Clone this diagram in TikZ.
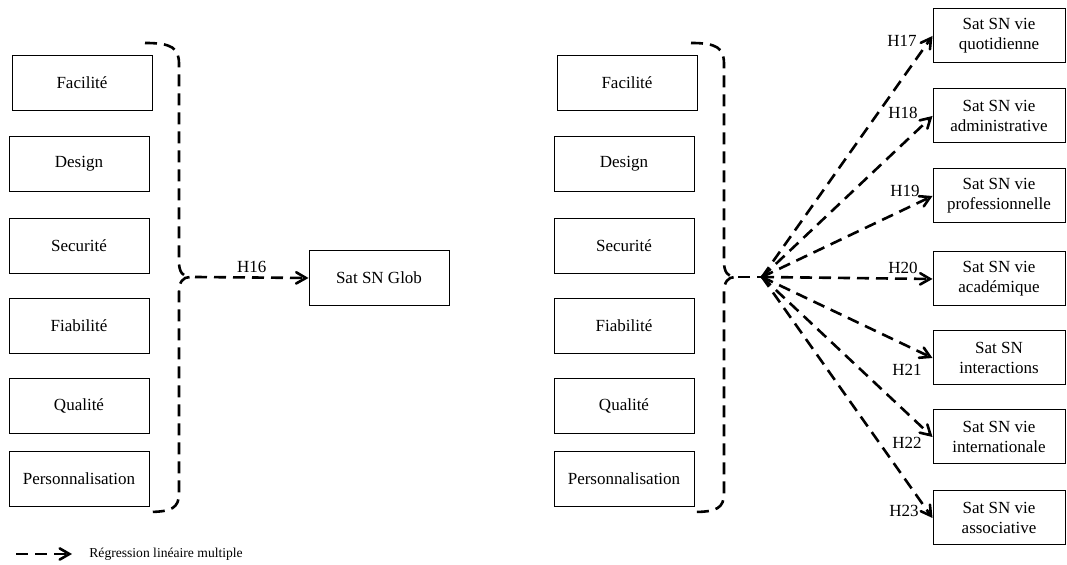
\documentclass[tikz,border=0pt]{standalone}
\usepackage{fontspec}
\setmainfont{Liberation Serif}
\usetikzlibrary{arrows}

\begin{document}
\begin{tikzpicture}[x=0.5pt, y=-0.5pt,
    box/.style={draw, line width=0.5pt, minimum width=70pt, minimum height=27.5pt,
      inner sep=1pt, align=center, font=\fontsize{8.5}{10}\selectfont},
    outbox/.style={box, minimum width=66pt, minimum height=27pt},
    reg/.style={line width=1.3pt, dash pattern=on 6pt off 3.5pt},
    arr/.style={reg, ->, >=angle 60},
    hyp/.style={inner sep=0pt, font=\fontsize{8.5}{10}\selectfont}]
    \useasboundingbox (0,0) rectangle (1067,565);

    % left model
    \node[box] (fa) at (82,83) {Facilité};
    \node[box] (de) at (79,164) {Design};
    \node[box] (se) at (79,246) {Securité};
    \node[box] (fi) at (79,326) {Fiabilité};
    \node[box] (qu) at (79,406) {Qualité};
    \node[box] (pe) at (79,479) {Personnalisation};
    \node[box] (glob) at (379,278) {Sat SN Glob};

    \draw[reg] (145,43) .. controls (172,43) and (179,48) .. (179,64) -- (179,262)
      .. controls (179,272) and (183,277) .. (190,277)
      .. controls (183,277) and (179,282) .. (179,292) -- (179,493)
      .. controls (179,508) and (172,512) .. (147,512);
    \coordinate (tipL) at (195,277);
    \draw[arr] (tipL) -- (glob.west) node[midway, above=2pt, hyp] (h16) {H16};

    % right model
    \node[box] (fa2) at (627,83) {Facilité};
    \node[box] (de2) at (624,164) {Design};
    \node[box] (se2) at (624,246) {Securité};
    \node[box] (fi2) at (624,326) {Fiabilité};
    \node[box] (qu2) at (624,406) {Qualité};
    \node[box] (pe2) at (624,479) {Personnalisation};

    \node[outbox] (quo) at (999,36) {Sat SN vie\\quotidienne};
    \node[outbox] (adm) at (999,116) {Sat SN vie\\administrative};
    \node[outbox] (pro) at (999,196) {Sat SN vie\\professionnelle};
    \node[outbox] (aca) at (999,279) {Sat SN vie\\académique};
    \node[outbox] (int) at (999,358) {Sat SN\\interactions};
    \node[outbox] (itn) at (999,437) {Sat SN vie\\internationale};
    \node[outbox] (ass) at (999,518) {Sat SN vie\\associative};

    \draw[reg] (691,43) .. controls (717,43) and (724,48) .. (724,64) -- (724,262)
      .. controls (724,272) and (728,277) .. (735,277)
      .. controls (728,277) and (724,282) .. (724,292) -- (724,493)
      .. controls (724,508) and (717,512) .. (693,512);
    \coordinate (tipR) at (738,277);
    \coordinate (hub) at (762,277);
    \draw[reg] (tipR) -- (hub);

    \draw[arr] (hub) -- (quo.west);
    \draw[arr] (hub) -- (adm.west);
    \draw[arr] (hub) -- (pro.west);
    \draw[arr] (hub) -- (aca.west);
    \draw[arr] (hub) -- (int.west);
    \draw[arr] (hub) -- (itn.west);
    \draw[arr] (hub) -- (ass.west);

    \node[hyp] (h17) at (902,41) {H17};
    \node[hyp] (h18) at (903,113) {H18};
    \node[hyp] (h19) at (905,191) {H19};
    \node[hyp] (h20) at (903,268) {H20};
    \node[hyp] (h21) at (907,370) {H21};
    \node[hyp] (h22) at (907,443) {H22};
    \node[hyp] (h23) at (904,511) {H23};

    % legend
    \coordinate (lgA) at (16,554);
    \coordinate (lgB) at (72,554);
    \draw[arr] (lgA) -- (lgB);
    \node[anchor=west, inner sep=0pt, font=\fontsize{6.8}{8}\selectfont] (lgtxt) at (89,554)
      {Régression linéaire multiple};
\end{tikzpicture}
\end{document}
